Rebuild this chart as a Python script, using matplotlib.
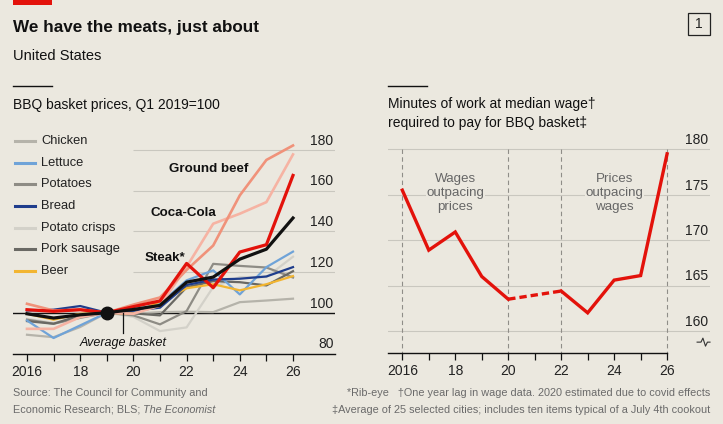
import matplotlib
matplotlib.use("Agg")
import matplotlib.pyplot as plt
from matplotlib.lines import Line2D
from matplotlib.patches import Rectangle

plt.rcParams['font.family'] = ['Liberation Sans', 'DejaVu Sans']

# ---- data ----
years = list(range(2016, 2027))
chicken = [89.2, 88.0, 93.0, 100, 99.5, 100.3, 100.5, 100.3, 105.2, 106.0, 106.9]
lettuce = [96.2, 87.6, 93.8, 100, 101.0, 104.4, 115.9, 120.8, 109.0, 122.4, 130.0]
potatoes = [96.6, 94.6, 97.5, 100, 98.7, 94.3, 100.8, 124.0, 123.0, 122.2, 117.3]
bread = [101.1, 101.5, 103.3, 100, 101.0, 102.5, 113.6, 116.3, 116.7, 117.8, 122.4]
crisps = [97.0, 95.0, 98.0, 100, 98.0, 91.0, 92.8, 112.6, 117.5, 117.5, 127.5]
pork = [95.9, 94.6, 98.7, 100, 99.7, 98.7, 112.5, 115.5, 115.0, 113.4, 120.4]
beer = [99.5, 96.6, 99.5, 100, 99.5, 105.5, 112.0, 114.0, 111.0, 114.0, 118.0]
ground_beef = [104.4, 101.1, 101.5, 100, 104.0, 107.5, 121.0, 133.0, 157.6, 175.0, 182.1]
coca_cola = [92.1, 92.1, 97.9, 100, 99.5, 103.5, 122.5, 143.7, 148.6, 154.3, 177.7]
steak = [101.5, 100.7, 101.5, 100, 103.0, 105.8, 124.2, 112.3, 129.8, 133.4, 167.4]
average = [99.5, 97.4, 99.0, 100, 101.6, 103.6, 115.0, 117.5, 126.3, 131.2, 146.5]

legend_names = ["Chicken", "Lettuce", "Potatoes", "Bread", "Potato crisps", "Pork sausage", "Beer"]
legend_series = [chicken, lettuce, potatoes, bread, crisps, pork, beer]
legend_colors = ["#b5b3aa", "#6fa3d8", "#8e8c85", "#1f3d8c", "#d3d1c9", "#6a6964", "#f2b531"]

years_a = [2016, 2017, 2018, 2019, 2020]
minutes_a = [175.5, 168.9, 170.9, 166.0, 163.5]
years_b = [2022, 2023, 2024, 2025, 2026]
minutes_b = [164.4, 162.0, 165.6, 166.1, 179.5]
shade_years = [2016, 2020, 2022, 2026]

left_ticks = [80, 100, 120, 140, 160, 180]
right_ticks = [160, 165, 170, 175, 180]
xtick_labels = ["2016", "18", "20", "22", "24", "26"]

BG = "#ebe8df"
RED = "#e3120b"
W, H = 723, 424


def fx(x):
    return x / W


def fy(y):
    return 1 - y / H


fig = plt.figure(figsize=(W / 100, H / 100), dpi=100, facecolor=BG)

# header
fig.add_artist(Rectangle((fx(13), fy(5)), 39 / W, 5 / H, transform=fig.transFigure,
                         color=RED, lw=0))
fig.text(fx(13), fy(32), "We have the meats, just about", fontsize=12.3,
         fontweight='bold', color="#111111", va='baseline')
fig.text(fx(13), fy(60), "United States", fontsize=10.5, color="#111111", va='baseline')
fig.add_artist(Rectangle((fx(688), fy(35)), 22 / W, 22 / H, transform=fig.transFigure,
                         fill=False, ec="#222222", lw=0.9))
fig.text(fx(699), fy(24), "1", fontsize=10, ha='center', va='center', color="#222222")

for x0 in (13, 388):
    fig.add_artist(Line2D([fx(x0), fx(x0 + 39)], [fy(86), fy(86)], transform=fig.transFigure,
                          color="#111111", lw=1))
fig.text(fx(13), fy(109), "BBQ basket prices, Q1 2019=100", fontsize=10, va='baseline',
         color="#111111")
fig.text(fx(388), fy(108), "Minutes of work at median wage\u2020", fontsize=10, va='baseline',
         color="#111111")
fig.text(fx(388), fy(127.5), "required to pay for BBQ basket\u2021", fontsize=10, va='baseline',
         color="#111111")


def style_axis(ax):
    ax.set_facecolor('none')
    for s in ['left', 'right', 'top']:
        ax.spines[s].set_visible(False)
    ax.spines['bottom'].set_color("#111111")
    ax.spines['bottom'].set_linewidth(1)
    ax.set_yticks([])
    ax.set_xticks(years)
    ax.set_xticklabels([xtick_labels[(y - 2016) // 2] if y % 2 == 0 else "" for y in years])
    ax.tick_params(axis='x', direction='out', length=5, width=0.9, color="#111111",
                   labelsize=10, labelcolor="#222222", pad=3)


# ---- left panel ----
axl = fig.add_axes([fx(13), fy(353.5), 322 / W, 223.5 / H])
style_axis(axl)
axl.set_xlim(2015.474, 2027.579)
axl.set_ylim(80, 80 + 223.5 / 2.0375)

for v in left_ticks[1:]:
    if v == 100:
        axl.axhline(v, color="#111111", lw=1, zorder=1)
    else:
        axl.hlines(v, 2020, 2027.579, color="#c9c7bf", lw=0.8, zorder=1)
for v in left_ticks:
    axl.annotate(str(v), xy=(1, v), xycoords=('axes fraction', 'data'), xytext=(-1, 1.5),
                 textcoords='offset points', ha='right', va='bottom', fontsize=10,
                 color="#222222")

order = [0, 4, 2, 5, 1, 6, 3]
for i in order:
    axl.plot(years, legend_series[i], color=legend_colors[i], lw=1.6, zorder=2)
axl.plot(years, coca_cola, color="#f6b3a3", lw=1.9, zorder=3)
axl.plot(years, ground_beef, color="#f0927a", lw=1.9, zorder=3)
axl.plot(years, steak, color=RED, lw=2.3, zorder=4)
axl.plot(years, average, color="#111111", lw=2.3, zorder=5)
axl.plot([2019], [100], 'o', color="#111111", ms=9, zorder=6)

axl.plot([2019.62, 2019.62], [100, 90.1], color="#111111", lw=0.9, zorder=5)
axl.text(2019.62, 85.1, "Average basket", style='italic', fontsize=9, ha='center',
         va='center', color="#111111")
axl.text(2022.82, 170.6, "Ground beef", fontweight='bold', fontsize=9.6, ha='center',
         va='center', color="#111111")
axl.text(2021.88, 149.0, "Coca-Cola", fontweight='bold', fontsize=9.6, ha='center',
         va='center', color="#111111")
axl.text(2021.17, 126.9, "Steak*", fontweight='bold', fontsize=9.6, ha='center',
         va='center', color="#111111")

# legend
for k, (name, col) in enumerate(zip(legend_names, legend_colors)):
    yy = 141 + k * 21.65
    fig.add_artist(Line2D([fx(15), fx(35)], [fy(yy), fy(yy)], transform=fig.transFigure,
                          color=col, lw=2.2))
    fig.text(fx(41), fy(yy), name, fontsize=9.3, va='center', color="#222222")

# ---- right panel ----
axr = fig.add_axes([fx(388), fy(353.3), 322 / W, 223.3 / H])
style_axis(axr)
axr.set_xlim(2015.46, 2027.62)
axr.set_ylim(160 - 22.3 / 9.08, 180 + 19.3 / 9.08)
axr.spines['bottom'].set_bounds(2015.46, 2026)

for v in right_ticks:
    axr.axhline(v, color="#c9c7bf", lw=0.8, zorder=1)
    axr.annotate(str(v), xy=(1, v), xycoords=('axes fraction', 'data'), xytext=(-1, 1.5),
                 textcoords='offset points', ha='right', va='bottom', fontsize=10,
                 color="#222222")
for yr in shade_years:
    axr.plot([yr, yr], [180, axr.get_ylim()[0]], color="#8f8d88", lw=0.8,
             dashes=(4, 3), zorder=1)

axr.text(2018, 175.2, "Wages\noutpacing\nprices", fontsize=9.6, ha='center', va='center',
         color="#666666", linespacing=1.2, zorder=2,
         bbox=dict(boxstyle='square,pad=0.05', fc=BG, ec='none'))
axr.text(2024, 175.2, "Prices\noutpacing\nwages", fontsize=9.6, ha='center', va='center',
         color="#666666", linespacing=1.2, zorder=2,
         bbox=dict(boxstyle='square,pad=0.05', fc=BG, ec='none'))

axr.plot(years_a, minutes_a, color=RED, lw=2.4, zorder=4, solid_joinstyle='miter')
axr.plot([years_a[-1], years_b[0]], [minutes_a[-1], minutes_b[0]], color=RED, lw=2.4,
         dashes=(2.2, 1.2), zorder=4)
axr.plot(years_b, minutes_b, color=RED, lw=2.4, zorder=4, solid_joinstyle='miter')

# axis break mark
axr.plot([0.96, 0.972, 0.978, 0.986, 0.992, 1.0], [0.05, 0.05, 0.068, 0.032, 0.05, 0.05],
         transform=axr.transAxes, color="#333333", lw=0.8, clip_on=False)

# footer
fig.text(fx(13), fy(393), "Source: The Council for Community and", fontsize=7.8,
         va='center', color="#6a6a6a")
t1 = fig.text(fx(13), fy(410), "Economic Research; BLS; ", fontsize=7.8, va='center',
              color="#6a6a6a")
fig.canvas.draw()
bb = t1.get_window_extent()
fig.text(bb.x1 / (W), fy(410), "The Economist", fontsize=7.8, va='center', style='italic',
         color="#6a6a6a")
fig.text(fx(710), fy(393),
         "*Rib-eye   \u2020One year lag in wage data. 2020 estimated due to covid effects",
         fontsize=7.8, va='center', ha='right', color="#6a6a6a")
fig.text(fx(710), fy(410),
         "\u2021Average of 25 selected cities; includes ten items typical of a July 4th cookout",
         fontsize=7.8, va='center', ha='right', color="#6a6a6a")

fig.savefig("out.png", dpi=100, facecolor=BG)
